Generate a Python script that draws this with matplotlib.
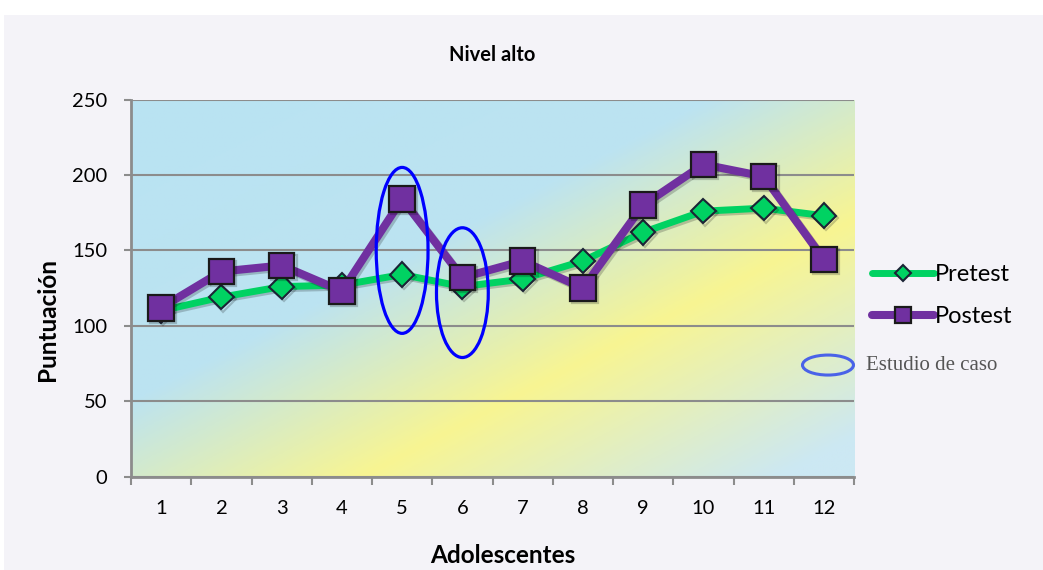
import numpy as np
import matplotlib
matplotlib.use("Agg")
import matplotlib.pyplot as plt
from matplotlib.colors import LinearSegmentedColormap
from matplotlib.patches import Ellipse, Rectangle
import matplotlib.patheffects as pe

plt.rcParams['font.family'] = ['Lato', 'DejaVu Sans']

# scores per adolescent
adolescentes = list(range(1, 13))
pretest = [110, 119, 126, 127, 134, 126, 131, 143, 162, 176, 178, 173]
postest = [112, 136, 140, 123, 184, 132, 143, 125, 180, 207, 199, 144]

# case-study rings: (adolescent, centre score, height in score units)
casos = [(5, 150, 110), (6, 122, 86)]

y_ticks = [0, 50, 100, 150, 200, 250]

fig = plt.figure(figsize=(10.43, 5.70), dpi=100, facecolor='white')
fig.patches.append(Rectangle((0.004, 0), 0.996, 1 - 15 / 570, transform=fig.transFigure,
                             facecolor='#F4F3F8', edgecolor='none', zorder=-10))

ax = fig.add_axes([0.1256, 0.1637, 0.6932, 0.6617])
ax.set_facecolor('none')

# diagonal blue / yellow / blue background
u = np.linspace(0, 1, 400)
v = np.linspace(0, 1, 300)
U, V = np.meshgrid(u, v)
t = (U + V) / 2
bg = LinearSegmentedColormap.from_list('bg', [
    (0.0, '#B9E3F3'), (0.40, '#BCE3F1'), (0.66, '#F8F592'),
    (0.95, '#CCE8F3'), (1.0, '#CCE8F3')])
ax.imshow(bg(t), extent=(0, 1, 0, 1), transform=ax.transAxes, aspect='auto',
          origin='upper', zorder=0, interpolation='bilinear')

shadow = [pe.SimpleLineShadow(offset=(1.5, -1.5), alpha=0.2, shadow_color='black'), pe.Normal()]

ax.plot(adolescentes, pretest, color='#00D262', lw=5, marker='D', ms=12.5,
        mfc='#00D262', mec='#1B2436', mew=1.5, solid_joinstyle='round',
        label='Pretest', zorder=3, path_effects=shadow)
ax.plot(adolescentes, postest, color='#7030A0', lw=5.8, marker='s', ms=18.5,
        mfc='#7030A0', mec='#1A1A1A', mew=1.6, solid_joinstyle='round',
        label='Postest', zorder=4, path_effects=shadow)

for x, yc, h in casos:
    ax.add_patch(Ellipse((x, yc), 0.86, h, fill=False, edgecolor='#0000FF', lw=2.3, zorder=5))

ax.set_xlim(0.5, 12.5)
ax.set_ylim(0, 250)
ax.set_yticks(y_ticks)
ax.set_xticks(adolescentes)
ax.set_xticks(np.arange(0.5, 13, 1), minor=True)
ax.grid(axis='y', color='#8C8C8C', lw=1.5, zorder=1)
ax.set_axisbelow(True)

for s in ['top', 'right']:
    ax.spines[s].set_visible(False)
for s in ['left', 'bottom']:
    ax.spines[s].set_color('#8C8C8C')
    ax.spines[s].set_linewidth(2)
    ax.spines[s].set_zorder(2)

ax.tick_params(axis='x', which='major', length=0, pad=17, labelsize=14.5)
ax.tick_params(axis='x', which='minor', length=6, width=1.5, color='#8C8C8C')
ax.tick_params(axis='y', length=5, width=1.5, color='#8C8C8C', pad=12, labelsize=14.5)

ax.text(0.5, 1.119, 'Nivel alto', transform=ax.transAxes, ha='center', va='center',
        fontsize=14.5, fontweight='bold')
ax.set_xlabel('Adolescentes', fontsize=17.5, fontweight='bold')
ax.xaxis.set_label_coords(0.5145, -0.2077)
ax.xaxis.label.set_va('center')
ax.set_ylabel('Puntuación', fontsize=17.5, fontweight='bold')
ax.yaxis.set_label_coords(-0.116, 0.416)
ax.yaxis.label.set_va('center')

leg = ax.legend(loc='center left', bbox_to_anchor=(1.012, 0.48), frameon=False,
                fontsize=17, handlelength=2.6, handletextpad=0.05, labelspacing=0.9,
                markerscale=0.62, borderaxespad=0)
for h in leg.legend_handles:
    h.set_solid_capstyle('round')
    h.set_path_effects([])

# legend entry for the case-study rings
ax.add_patch(Ellipse((0.964, 0.296), 0.0705, 0.053, transform=ax.transAxes, fill=False,
                     edgecolor='#4A62E8', lw=2.2, zorder=5, clip_on=False))
ax.text(1.017, 0.296, 'Estudio de caso', transform=ax.transAxes, ha='left', va='center',
        fontsize=15, family='Liberation Serif', color='#555555')

fig.savefig('out.png', dpi=100, facecolor=fig.get_facecolor())
